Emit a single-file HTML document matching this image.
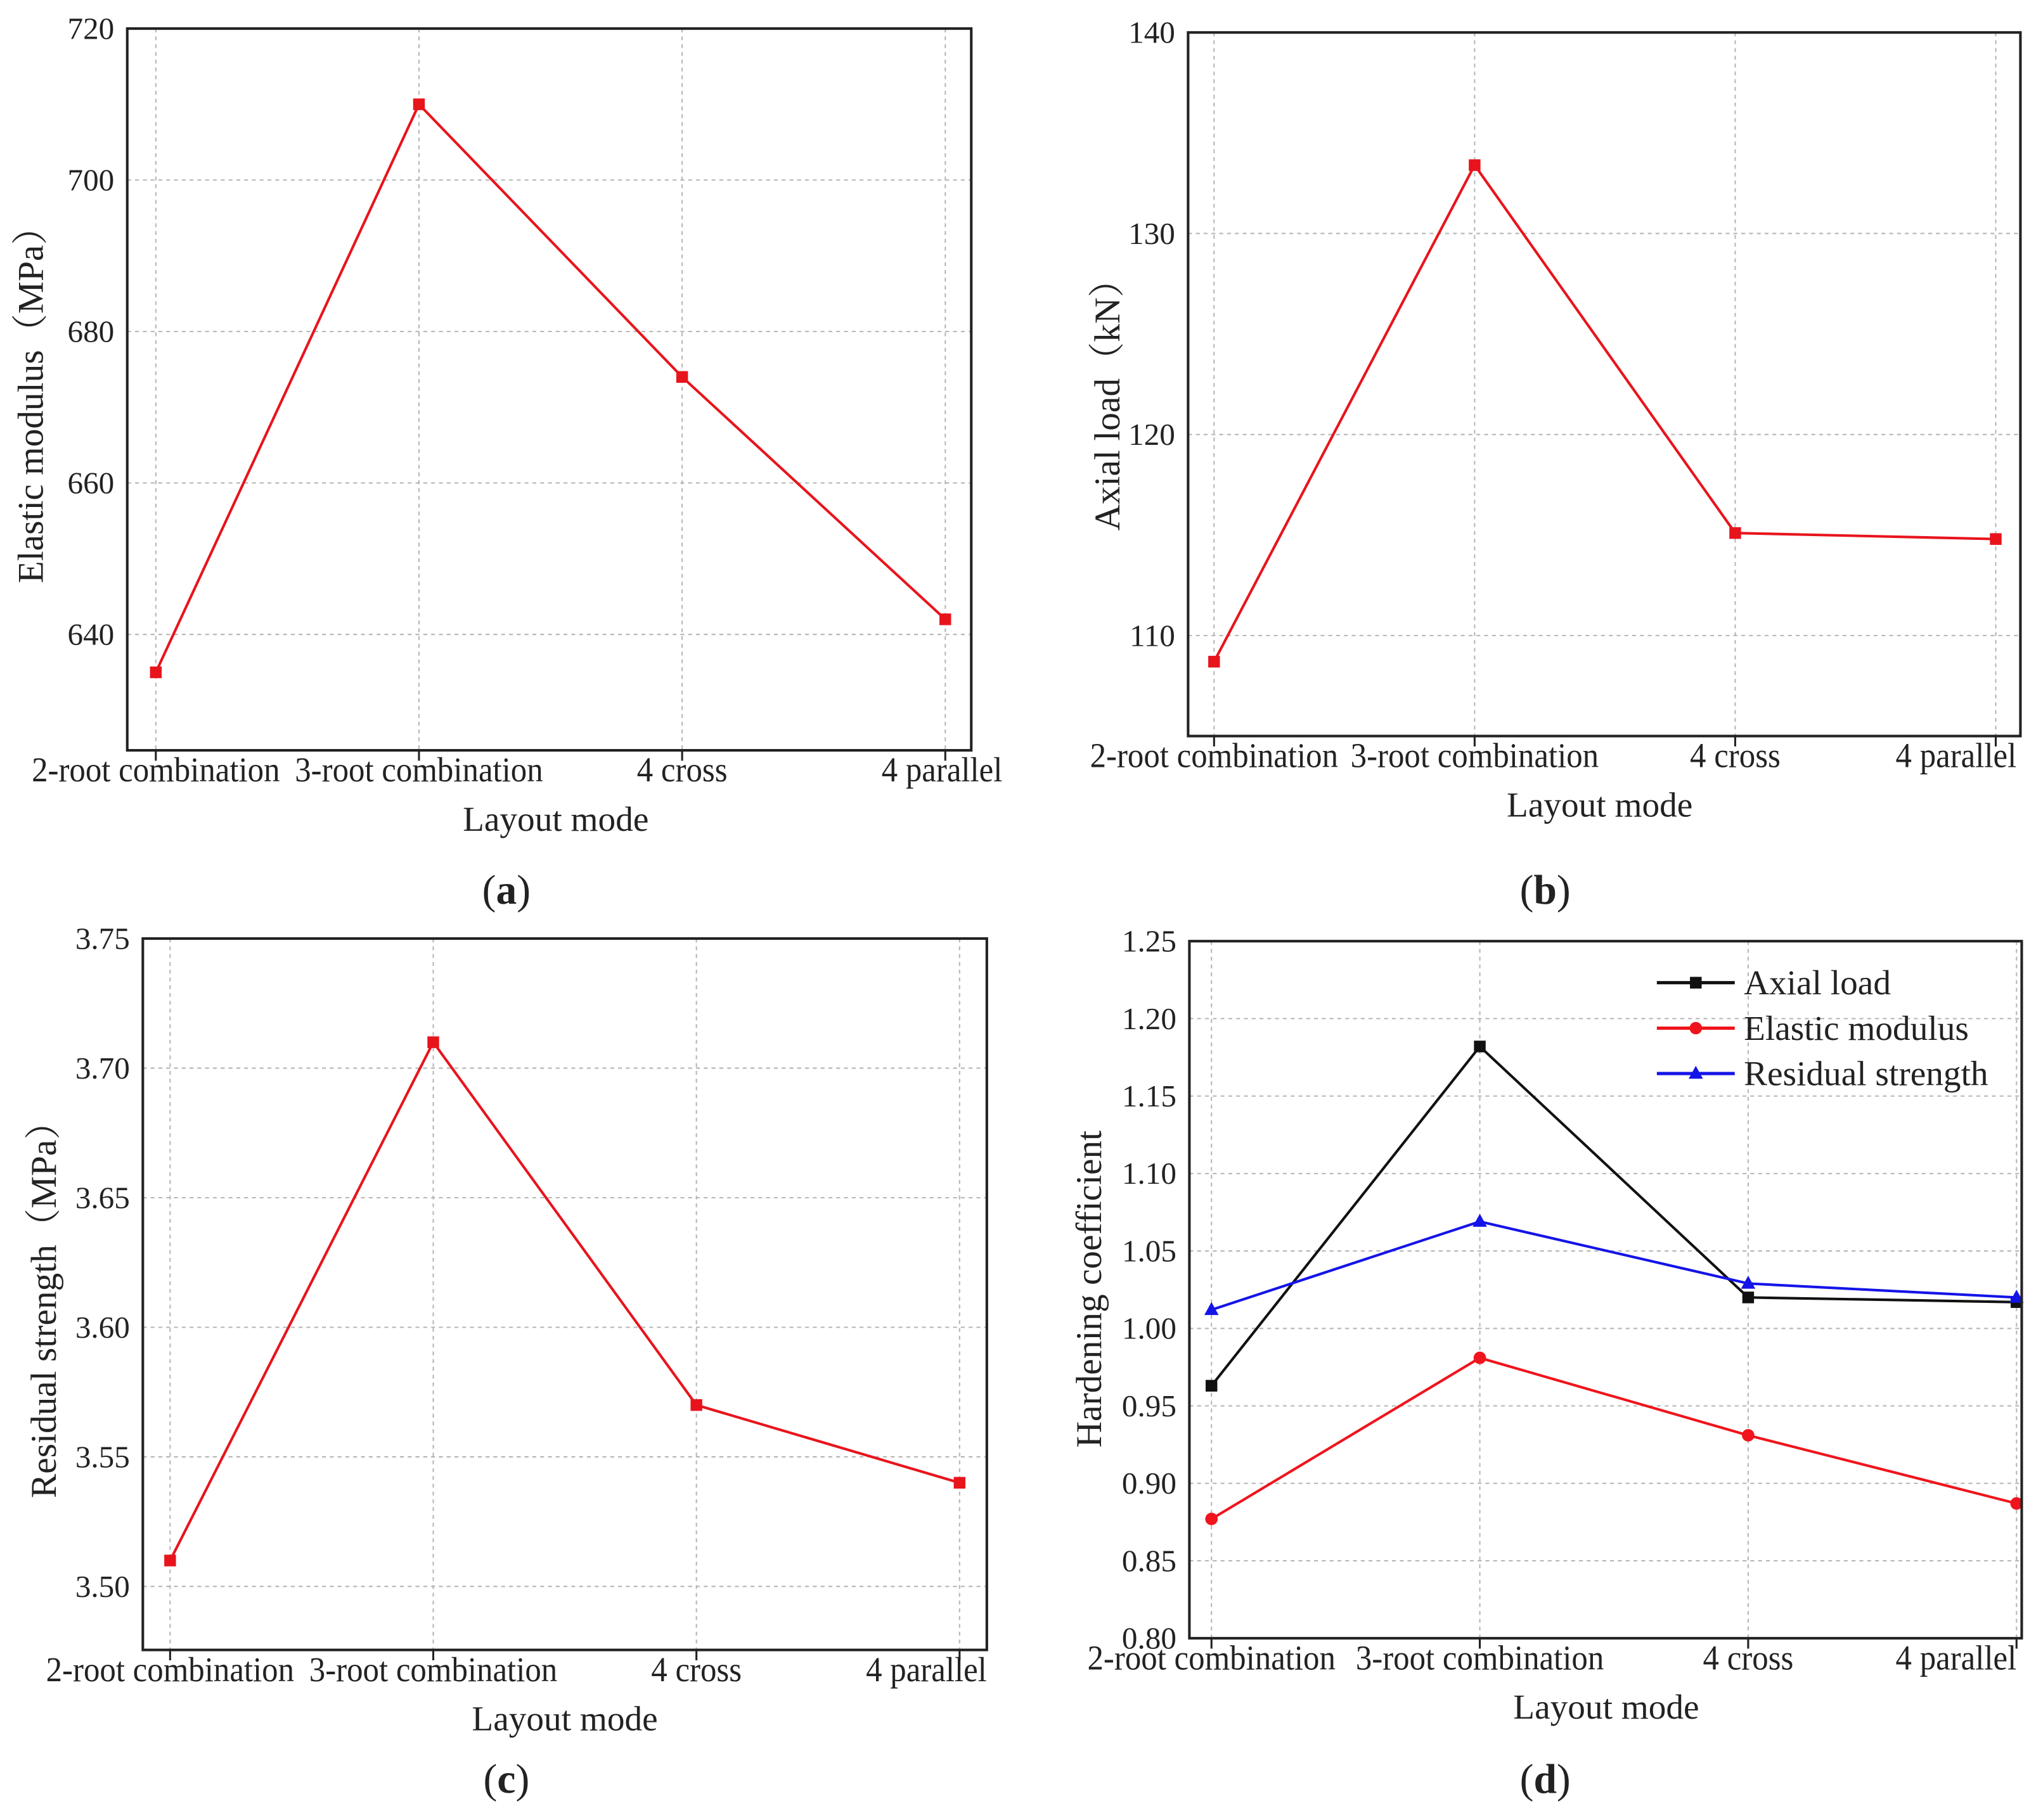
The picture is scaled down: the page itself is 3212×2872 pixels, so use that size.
<!DOCTYPE html>
<html><head><meta charset="utf-8">
<style>
html,body{margin:0;padding:0;background:#fff;}
svg{display:block;}
text{font-family:"Liberation Serif","Noto Serif CJK SC",serif;fill:#222;}
</style></head>
<body>
<svg id="fig" width="3212" height="2872" viewBox="0 0 1568 1402" xmlns="http://www.w3.org/2000/svg"></svg>
<script>
const categories = ["2-root combination","3-root combination","4 cross","4 parallel"];
const aValues = [635, 710, 674, 642];
const aTicks = [640, 660, 680, 700, 720];
const bValues = [108.7, 133.4, 115.1, 114.8];
const bTicks = [110, 120, 130, 140];
const cValues = [3.51, 3.71, 3.57, 3.54];
const cTicks = [3.50, 3.55, 3.60, 3.65, 3.70, 3.75];
const dAxial = [0.963, 1.182, 1.020, 1.017];
const dElastic = [0.877, 0.981, 0.931, 0.887];
const dResidual = [1.012, 1.069, 1.029, 1.020];
const dTicks = [0.80, 0.85, 0.90, 0.95, 1.00, 1.05, 1.10, 1.15, 1.20, 1.25];
const seriesNames = ["Axial load","Elastic modulus","Residual strength"];

const NS = "http://www.w3.org/2000/svg";
const svg = document.getElementById('fig');
function mk(tag, attrs, parent, txt){
  const e = document.createElementNS(NS, tag);
  for (const k in attrs) e.setAttribute(k, attrs[k]);
  if (txt !== undefined) e.textContent = txt;
  (parent || svg).appendChild(e);
  return e;
}
function condense(t, f){
  const w = t.getComputedTextLength();
  if (w > 0) { t.setAttribute('textLength', (w * f).toFixed(1)); t.setAttribute('lengthAdjust', 'spacingAndGlyphs'); }
}
function marker(g, shape, x, y, color){
  let m;
  if (shape === 'sq') m = mk('rect', {x:x-4.5, y:y-4.5, width:9, height:9, fill:color}, g);
  else if (shape === 'ci') m = mk('circle', {cx:x, cy:y, r:4.8, fill:color}, g);
  else m = mk('polygon', {points:`${x},${y-6} ${x-5.5},${y+4} ${x+5.5},${y+4}`, fill:color}, g);
  return m;
}
function panel(cfg){
  const g = mk('g', {});
  
  
  const {x0,x1,y0,y1,vmin,vmax,cx0,cx1} = cfg;
  const sy = v => y1 - (v - vmin) / (vmax - vmin) * (y1 - y0);
  const sx = i => cx0 + i * (cx1 - cx0) / (categories.length - 1);
  cfg.ticks.forEach(t => {
    const y = sy(t);
    const gl = mk('line', {x1:x0, x2:x1, y1:y, y2:y, stroke:'#b5b5b5', 'stroke-width':1, 'stroke-dasharray':'3,3'}, g);
    
    
    const tl = mk('text', {x:x0-10, y:y+8, 'text-anchor':'end', 'font-size':24}, g, cfg.fmt(t));
    
    
  });
  categories.forEach((c, i) => {
    const x = sx(i);
    const gl = mk('line', {x1:x, x2:x, y1:y0, y2:y1, stroke:'#b5b5b5', 'stroke-width':1, 'stroke-dasharray':'3,3'}, g);
    
    
    mk('line', {x1:x, x2:x, y1:y1, y2:y1+8, stroke:'#222', 'stroke-width':1.5}, g);
    const last = i === categories.length - 1;
    const anchor = last ? 'end' : 'middle';
    const tx = last ? cfg.lastEndX : x;
    const tl = mk('text', {x:tx, y:y1+24, 'text-anchor':anchor, 'font-size':27}, g, c);
    
    
    condense(tl, 0.92);
  });
  cfg.series.forEach(s => {
    const sg = mk('g', {}, g);
    
    
    const pts = s.values.map((v, i) => sx(i) + ',' + sy(v)).join(' ');
    mk('polyline', {points:pts, fill:'none', stroke:s.color, 'stroke-width':2}, sg);
    s.values.forEach((v, i) => {
      const m = marker(sg, s.shape, sx(i), sy(v), s.color);
      
      
    });
  });
  const box = mk('rect', {x:x0, y:y0, width:x1-x0, height:y1-y0, fill:'none', stroke:'#222', 'stroke-width':2}, g);
  
  
  const xt = mk('text', {x:cfg.xtX, y:y1+62, 'text-anchor':'middle', 'font-size':27}, g, 'Layout mode');
  
  
  const yt = mk('text', {x:0, y:0, 'text-anchor':'middle', 'font-size':28, transform:`translate(${cfg.ytX},${cfg.ytY}) rotate(-90)`}, g, cfg.ytitle);
  
  
  const pl = mk('text', {x:cfg.plX, y:cfg.plY, 'text-anchor':'middle', 'font-size':32}, g);
  
  
  mk('tspan', {}, pl, '(');
  mk('tspan', {'font-weight':'bold'}, pl, cfg.letter);
  mk('tspan', {}, pl, ')');
  return g;
}

panel({name:'panel-a-elastic-modulus', x0:98, x1:748, y0:22, y1:578, vmin:624.7, vmax:720, cx0:120, cx1:728,
  ticks:aTicks, fmt:t=>String(t), series:[{key:'elastic-modulus', values:aValues, color:'#e8141c', shape:'sq'}],
  xtX:428, ytX:33, ytY:305, ytitle:'Elastic modulus（MPa）', plX:390, plY:696, letter:'a', lastEndX:772});
panel({name:'panel-b-axial-load', x0:915, x1:1556, y0:25, y1:567, vmin:105.0, vmax:140, cx0:935, cx1:1537,
  ticks:bTicks, fmt:t=>String(t), series:[{key:'axial-load', values:bValues, color:'#e8141c', shape:'sq'}],
  xtX:1232, ytX:862, ytY:305, ytitle:'Axial load（kN）', plX:1190, plY:696, letter:'b', lastEndX:1553});
panel({name:'panel-c-residual-strength', x0:110, x1:760, y0:723, y1:1271, vmin:3.4755, vmax:3.75, cx0:131, cx1:739,
  ticks:cTicks, fmt:t=>t.toFixed(2), series:[{key:'residual-strength', values:cValues, color:'#e8141c', shape:'sq'}],
  xtX:435, ytX:43, ytY:1002, ytitle:'Residual strength（MPa）', plX:390, plY:1381, letter:'c', lastEndX:760});
panel({name:'panel-d-hardening-coefficient', x0:916, x1:1557, y0:725, y1:1262, vmin:0.80, vmax:1.25, cx0:933, cx1:1553,
  ticks:dTicks, fmt:t=>t.toFixed(2), series:[
    {key:'axial-load', values:dAxial, color:'#111', shape:'sq'},
    {key:'elastic-modulus', values:dElastic, color:'#f0141c', shape:'ci'},
    {key:'residual-strength', values:dResidual, color:'#1414e8', shape:'tr'}],
  xtX:1237, ytX:848, ytY:993, ytitle:'Hardening coefficient', plX:1190, plY:1381, letter:'d', lastEndX:1553});

const lg = mk('g', {});


const lcols = ['#111', '#f0141c', '#1414e8'];
const lshapes = ['sq', 'ci', 'tr'];
seriesNames.forEach((n, i) => {
  const y = 757 + i * 35;
  const e = mk('g', {}, lg);
  
  
  mk('line', {x1:1276, x2:1336, y1:y, y2:y, stroke:lcols[i], 'stroke-width':2.5}, e);
  marker(e, lshapes[i], 1306, y, lcols[i]);
  mk('text', {x:1343, y:y+9, 'font-size':27}, e, n);
});
</script>
</body></html>
